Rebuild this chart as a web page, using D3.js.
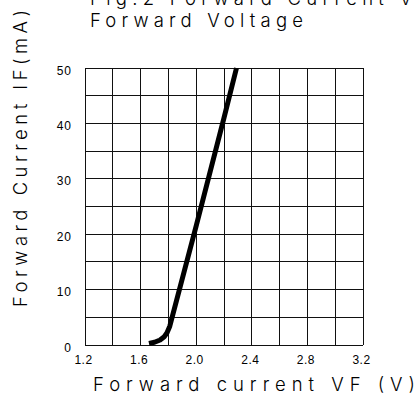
<!DOCTYPE html>
<html>
<head>
<meta charset="utf-8">
<script src="https://cdn.jsdelivr.net/npm/d3@7"></script>
<style>
  body { margin: 0; background: #fff; }
  svg { display: block; }
</style>
</head>
<body>
<svg id="chart"></svg>
<script>
// curve: forward voltage (V) vs forward current (mA)
const voltage = [1.66, 1.70, 1.74, 1.77, 1.79, 1.81, 2.00, 2.20, 2.29];
const current = [0.3, 0.5, 0.9, 1.5, 2.2, 3.4, 21.5, 41.0, 50.0];

const xTicks = [1.2, 1.6, 2.0, 2.4, 2.8, 3.2];
const yTicks = [0, 10, 20, 30, 40, 50];
const xGrid = d3.range(1.2, 3.21, 0.2);
const yGrid = d3.range(0, 51, 5);

const width = 417, height = 400;
const margin = {top: 68, right: 54, bottom: 55, left: 85};

const svg = d3.select('#chart')
  .attr('width', width)
  .attr('height', height);

const x = d3.scaleLinear()
  .domain([1.2, 3.2])
  .range([margin.left, width - margin.right]);

const y = d3.scaleLinear()
  .domain([0, 50])
  .range([height - margin.bottom, margin.top]);

// grid
const grid = svg.append('g')
  .attr('stroke', '#111')
  .attr('stroke-width', 1)
  .attr('shape-rendering', 'crispEdges');

grid.selectAll('line.v')
  .data(xGrid)
  .join('line')
  .attr('class', 'v')
  .attr('x1', d => x(d)).attr('x2', d => x(d))
  .attr('y1', y(0)).attr('y2', y(50));

grid.selectAll('line.h')
  .data(yGrid)
  .join('line')
  .attr('class', 'h')
  .attr('x1', x(1.2)).attr('x2', x(3.2))
  .attr('y1', d => y(d)).attr('y2', d => y(d));

// tick labels
const xAxis = svg.append('g')
  .attr('transform', `translate(0, ${y(0)})`)
  .call(d3.axisBottom(x).tickValues(xTicks).tickSize(0).tickPadding(10)
    .tickFormat(d3.format('.1f')))
  .call(g => g.select('.domain').remove());

xAxis.selectAll('text')
  .attr('font-family', 'Liberation Sans, Arial, sans-serif')
  .attr('font-size', 12)
  .attr('letter-spacing', 0.5)
  .attr('dx', -2)
  .attr('fill', '#000');

const yAxis = svg.append('g')
  .attr('transform', `translate(${x(1.2)}, 0)`)
  .call(d3.axisLeft(y).tickValues(yTicks).tickSize(0).tickPadding(13))
  .call(g => g.select('.domain').remove());

yAxis.selectAll('text')
  .attr('font-family', 'Liberation Sans, Arial, sans-serif')
  .attr('font-size', 12)
  .attr('letter-spacing', 1)
  .attr('dy', '0.5em')
  .attr('fill', '#000');

// the curve
const line = d3.line()
  .x((d, i) => x(voltage[i]))
  .y(d => y(d));

svg.append('path')
  .datum(current)
  .attr('fill', 'none')
  .attr('stroke', '#000')
  .attr('stroke-width', 5)
  .attr('stroke-linejoin', 'round')
  .attr('d', line);

// titles, thin lettering like the plotter font
function label(txt, len) {
  return svg.append('text')
    .attr('font-family', 'Inter, "Noto Sans", sans-serif')
    .attr('font-weight', 300)
    .attr('font-size', 18.5)
    .attr('fill', '#000')
    .attr('textLength', len)
    .attr('lengthAdjust', 'spacing')
    .text(txt);
}

label('Fig.2 Forward Current Vs', 336).attr('x', 90).attr('y', 5);
label('Forward Voltage', 213).attr('x', 90).attr('y', 27);
label('Forward current VF (V)', 322).attr('x', 93).attr('y', 391);
label('Forward Current IF(mA)', 297)
  .attr('transform', 'translate(27, 307) rotate(-90)');
</script>
</body>
</html>
